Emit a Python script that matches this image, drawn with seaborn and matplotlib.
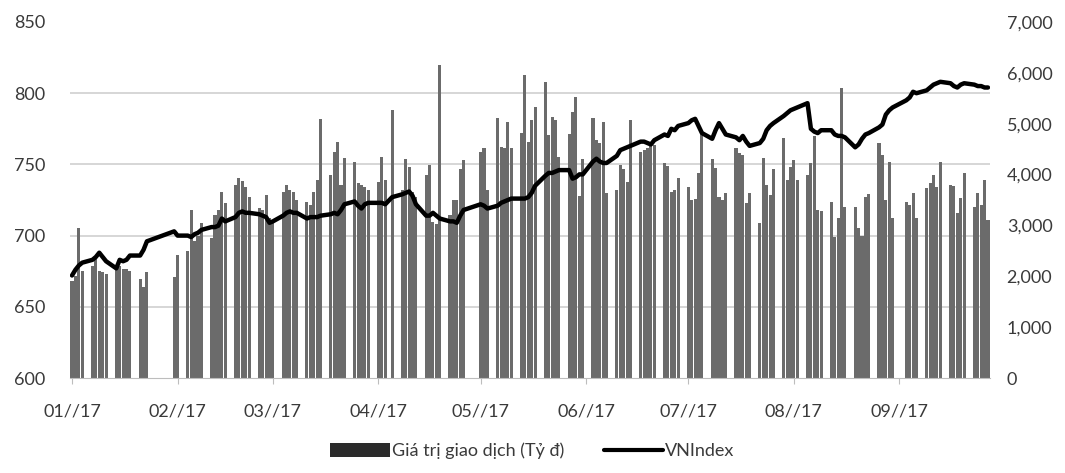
import pandas as pd
import numpy as np
import matplotlib
matplotlib.use('Agg')
import matplotlib.pyplot as plt
import matplotlib.dates as mdates
import matplotlib.ticker as mticker
from matplotlib.patches import Patch
from matplotlib.lines import Line2D
import seaborn as sns

###--------------------------------------------------###
# Ngay giao dich 2017 (bo ngay nghi le)
ngay_nghi = ['2017-01-26', '2017-01-27', '2017-01-30', '2017-01-31', '2017-02-01',
             '2017-04-06', '2017-05-01', '2017-05-02', '2017-09-04']
ngay = pd.bdate_range('2017-01-03', '2017-09-29')
ngay = ngay[~ngay.isin(pd.to_datetime(ngay_nghi))]

# Gia tri giao dich (Ty d) theo thang
gtgd_t1 = [1900, 2000, 2950, 2100, 2200, 2350, 2100, 2080, 2050,
           2150, 2200, 2150, 2150, 2100, 1950, 1790, 2080]
gtgd_t2 = [1980, 2420, 2500, 3300, 2700, 2800, 3050, 2750, 3200, 3300, 3650, 3450,
           3800, 3930, 3880, 3750, 3550, 3350, 3300]
gtgd_t3 = [3600, 3150, 3100, 3650, 3800, 3700, 3650, 3500, 3460, 3400, 3650, 3900, 5100,
           3990, 4450, 4640, 3800, 4330, 4250, 3830, 3800, 3750, 3700]
gtgd_t4 = [3850, 4350, 3900, 5270, 3700, 4300, 4150, 3650, 3550,
           3990, 4190, 3070, 3020, 6150, 3200, 3500, 3500, 4100, 4290]
gtgd_t5 = [4440, 4520, 3700, 5110, 4540, 4520, 5030, 4520, 4820, 5960, 4640, 5070, 5330,
           5820, 4780, 5130, 5070, 4350, 4800, 5230, 5520]
gtgd_t6 = [3580, 4300, 5110, 4680, 4620, 5030, 3640, 3700, 4180, 4100, 3850, 5070,
           4440, 4480, 4520, 4560, 4580, 4230, 4170, 3650, 3700, 3930]
gtgd_t7 = [3750, 3500, 3520, 4030, 4800, 4300, 4130, 3550, 3500, 3640, 4520, 4420, 4380,
           3440, 3640, 3050, 4320, 3790, 3600, 4110, 4720]
gtgd_t8 = [3900, 4150, 4280, 3900, 3990, 4230, 4750, 3300, 3280, 3460, 2770, 3150, 5700,
           3360, 3360, 2950, 2800, 3560, 3620, 4620, 4380, 3500, 4250]
gtgd_t9 = [3150, 3460, 3400, 3640, 3150, 3740, 3830, 3990, 3760, 4250,
           3800, 3780, 3240, 3540, 4030, 3360, 3640, 3400, 3890, 3110]

# VNIndex theo thang
vni_t1 = [672, 676, 679, 681, 683, 685, 688, 685, 682, 677, 683, 682, 683, 686, 686, 690, 696]
vni_t2 = [703, 700, 700, 699, 701, 702, 704, 706, 706, 707, 712, 710, 713, 716, 717, 716,
          716, 715, 714]
vni_t3 = [713, 709, 710, 714, 716, 717, 716, 716, 712, 713, 713, 713, 714, 715, 716, 715,
          718, 722, 724, 721, 719, 722, 723]
vni_t4 = [723, 723, 722, 727, 729, 730, 731, 728, 722, 714, 714, 716, 714, 712, 710, 710,
          709, 714, 718]
vni_t5 = [722, 721, 719, 721, 723, 724, 725, 726, 726, 726, 727, 730, 735, 742, 744, 744,
          745, 746, 746, 740, 741]
vni_t6 = [743, 743, 752, 754, 752, 751, 751, 756, 760, 761, 762, 763, 766, 766, 765, 764,
          767, 771, 770, 775, 774, 777]
vni_t7 = [779, 781, 782, 777, 772, 768, 774, 779, 775, 771, 769, 767, 770, 766, 763, 765,
          768, 774, 777, 779, 784]
vni_t8 = [786, 788, 789, 790, 793, 775, 773, 772, 774, 774, 771, 770, 770, 769, 762, 764,
          768, 771, 772, 776, 778, 785, 788]
vni_t9 = [790, 795, 797, 801, 800, 802, 804, 806, 807, 808, 807, 805, 804, 806, 807, 806,
          805, 805, 804, 804]

nhan_thang = ['2017-01-03', '2017-02-03', '2017-03-03', '2017-04-03', '2017-05-03',
              '2017-06-03', '2017-07-03', '2017-08-03', '2017-09-03']

###--------------------------------------------------###
gtgd = gtgd_t1 + gtgd_t2 + gtgd_t3 + gtgd_t4 + gtgd_t5 + gtgd_t6 + gtgd_t7 + gtgd_t8 + gtgd_t9
vni = vni_t1 + vni_t2 + vni_t3 + vni_t4 + vni_t5 + vni_t6 + vni_t7 + vni_t8 + vni_t9

df = pd.DataFrame({'ngay': mdates.date2num(ngay), 'gtgd': gtgd, 'vnindex': vni})

sns.set_style('white')
plt.rcParams['font.family'] = ['Lato', 'DejaVu Sans']

mau_cot = '#6b6b6b'
mau_chu = '#3a3a3a'

fig, ax = plt.subplots(figsize=(10.65, 4.73), dpi=100)
fig.subplots_adjust(left=0.0657, right=0.9296, top=0.9535, bottom=0.2008)
ax2 = ax.twinx()

# Cot gia tri giao dich (truc phai)
sns.barplot(data=df, x='ngay', y='gtgd', native_scale=True, color=mau_cot, saturation=1,
            width=0.9, errorbar=None, edgecolor='none', ax=ax)
ax.set_ylim(0, 7000)
ax.yaxis.set_major_locator(mticker.MultipleLocator(1000))
ax.yaxis.set_major_formatter(mticker.FuncFormatter(lambda v, p: f'{v:,.0f}'))

# Duong VNIndex (truc trai)
sns.lineplot(data=df, x='ngay', y='vnindex', color='black', lw=3.2, ax=ax2)
ax2.set_ylim(600, 850)
ax2.yaxis.set_major_locator(mticker.MultipleLocator(50))

# doi vi tri truc sau twinx
ax.yaxis.tick_right()
ax2.yaxis.tick_left()
ax.tick_params(axis='y', which='major', length=0, pad=12, labelsize=13, labelcolor=mau_chu,
               left=False, labelleft=False, right=True, labelright=True)
ax2.tick_params(axis='y', length=0, pad=18, labelsize=13, labelcolor=mau_chu,
                right=False, labelright=False, left=True, labelleft=True)

# Duong luoi theo truc trai (600-850)
luoi = (np.arange(650, 851, 50) - 600) / 250 * 7000
ax.set_yticks(luoi, minor=True)
ax.tick_params(axis='y', which='minor', length=0, labelright=False, labelleft=False)
ax.grid(which='minor', axis='y', color='#cfcfcf', lw=1.2)
ax.set_axisbelow(True)

# Truc ngay
x_ticks = mdates.date2num(pd.to_datetime(nhan_thang))
ax.set_xticks(x_ticks)
ax.xaxis.set_major_formatter(mdates.DateFormatter('%m//%y'))
ax.set_xlim(df['ngay'].min() - 0.6, df['ngay'].max() + 0.6)
ax.tick_params(axis='x', length=4, color='#bdbdbd', pad=14, labelsize=13, labelcolor=mau_chu,
               bottom=True)

for a in (ax, ax2):
    a.set_xlabel('')
    a.set_ylabel('')
    for s in ['top', 'left', 'right']:
        a.spines[s].set_visible(False)
ax2.spines['bottom'].set_visible(False)
ax.spines['bottom'].set_color('#bdbdbd')

handles = [Patch(facecolor='#2b2b2b', edgecolor='none'),
           Line2D([], [], color='black', lw=3)]
fig.legend(handles, ['Giá trị giao dịch (Tỷ đ)', 'VNIndex'], loc='lower center',
           bbox_to_anchor=(0.5, -0.005), ncol=2, frameon=False, fontsize=13,
           handlelength=3.3, handleheight=0.8, handletextpad=0.1, columnspacing=2.2,
           labelcolor=mau_chu)

plt.savefig('out.png', dpi=100)
